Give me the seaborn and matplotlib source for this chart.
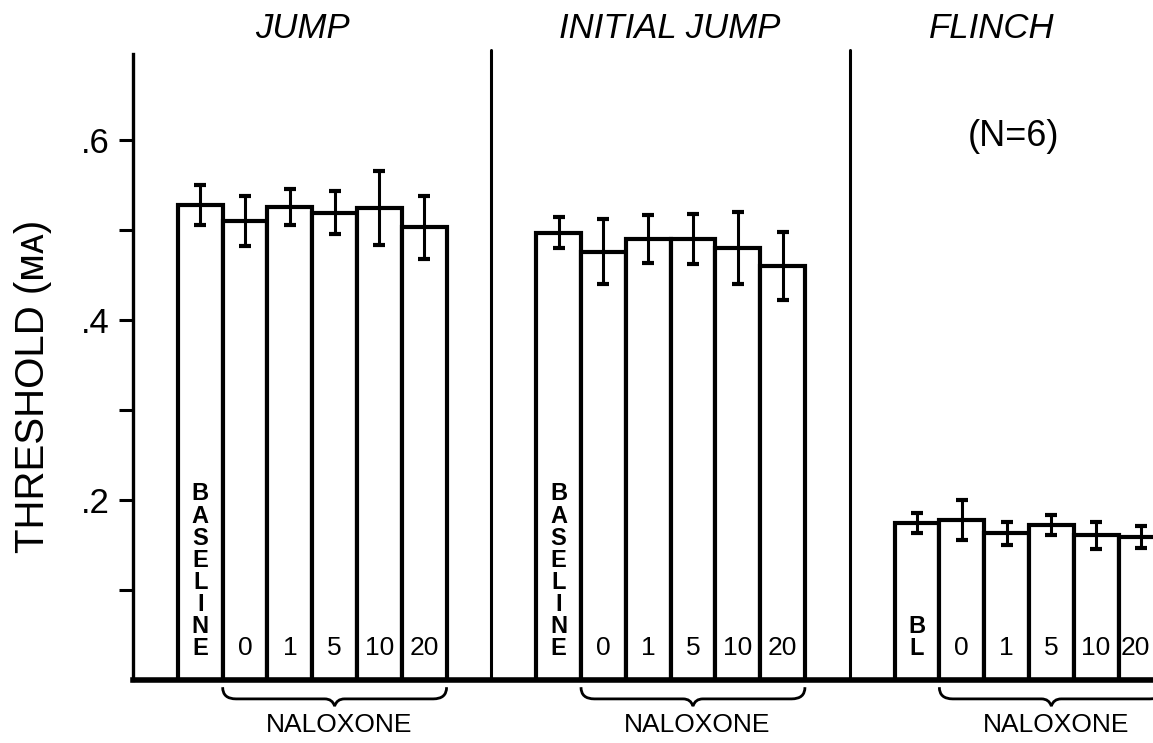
import numpy as np
import pandas as pd
import matplotlib
matplotlib.use("Agg")
import matplotlib.pyplot as plt
from matplotlib.path import Path
from matplotlib.patches import PathPatch
import seaborn as sns

# data (threshold in mA, mean +/- SEM)
panels = ["JUMP", "INITIAL JUMP", "FLINCH"]
conditions = ["BASELINE", "0", "1", "5", "10", "20"]
jump_mean = [0.528, 0.510, 0.525, 0.519, 0.524, 0.503]
jump_sem = [0.022, 0.028, 0.020, 0.024, 0.041, 0.035]
initial_mean = [0.497, 0.476, 0.490, 0.490, 0.480, 0.460]
initial_sem = [0.017, 0.036, 0.027, 0.028, 0.040, 0.038]
flinch_mean = [0.174, 0.178, 0.163, 0.172, 0.161, 0.159]
flinch_sem = [0.011, 0.022, 0.013, 0.011, 0.015, 0.012]
yticks_major = [0.2, 0.4, 0.6]
ytick_labels = [".2", ".4", ".6"]
yticks_minor = [0.1, 0.3, 0.5]

sns.set_style("ticks")
plt.rcParams["font.family"] = ["Liberation Sans", "DejaVu Sans"]
for k in ["text.color", "axes.labelcolor", "xtick.color", "ytick.color", "axes.edgecolor"]:
    plt.rcParams[k] = "black"

panel_w = 8
rows = []
for p, (m, s) in enumerate(zip([jump_mean, initial_mean, flinch_mean],
                               [jump_sem, initial_sem, flinch_sem])):
    for i in range(len(conditions)):
        rows.append({"panel": panels[p], "cond": conditions[i],
                     "pos": p * panel_w + 1.5 + i, "thr": m[i], "sem": s[i]})
df = pd.DataFrame(rows)

fig = plt.figure(figsize=(11.53, 7.43), dpi=100)
ax = fig.add_axes([0.1154, 0.0848, 0.8846, 0.8419])

sns.barplot(data=df, x="pos", y="thr", native_scale=True, width=1.0,
            color="white", saturation=1, edgecolor="black", linewidth=3,
            errorbar=None, ax=ax)
ax.errorbar(df["pos"], df["thr"], yerr=df["sem"], fmt="none", ecolor="black",
            elinewidth=2.2, capsize=4, capthick=3)

ax.set_xlim(0, 22.77)
ax.set_ylim(0, 0.695)
ax.set_xticks([])
ax.set_xlabel("")
ax.set_yticks(yticks_major)
ax.set_yticklabels(ytick_labels, fontsize=25)
ax.set_yticks(yticks_minor, minor=True)
ax.tick_params(axis="y", which="both", length=10, width=2.2, direction="out", pad=7)
for side in ["top", "right"]:
    ax.spines[side].set_visible(False)
ax.spines["left"].set_linewidth(2.4)
ax.spines["bottom"].set_linewidth(4)
ax.set_ylabel("THRESHOLD (ᴍᴀ)", fontsize=29)
ax.yaxis.set_label_coords(-0.079, 0.47)

# panel dividers and titles
for p in [1, 2]:
    ax.plot([p * panel_w, p * panel_w], [0, 0.70], color="black", lw=2.2, clip_on=False)
for name, x in zip(panels, [3.78, 11.97, 19.16]):
    ax.text(x, 0.724, name, ha="center", va="center", fontsize=25,
            style="italic", clip_on=False)
ax.text(19.65, 0.604, "(N=6)", ha="center", va="center", fontsize=26)

# labels inside bars
for p in range(3):
    x0 = p * panel_w + 1.5
    base = "BASELINE" if p < 2 else "BL"
    ax.text(x0, 0.022, "\n".join(base), ha="center", va="bottom", fontsize=17,
            fontweight="bold", linespacing=0.95)
    for i, c in enumerate(conditions[1:]):
        # last flinch bar is cut by the right edge, keep its label inside
        x = x0 + 1 + i - (0.12 if (p == 2 and i == 4) else 0)
        ax.text(x, 0.022, c, ha="center", va="bottom", fontsize=19)

# braces under naloxone bars
def brace(ax, x0, x1, y0=-0.008, y1=-0.021, y2=-0.029, r=0.3, t=0.22):
    xm = (x0 + x1) / 2
    verts = [(x0, y0), (x0, y1), (x0 + r, y1),
             (xm - t, y1), (xm - 0.05, y1), (xm, y2),
             (xm + 0.05, y1), (xm + t, y1),
             (x1 - r, y1), (x1, y1), (x1, y0)]
    codes = [Path.MOVETO, Path.CURVE3, Path.CURVE3,
             Path.LINETO, Path.CURVE3, Path.CURVE3,
             Path.CURVE3, Path.CURVE3,
             Path.LINETO, Path.CURVE3, Path.CURVE3]
    ax.add_patch(PathPatch(Path(verts, codes), fill=False, lw=2,
                           color="black", clip_on=False))
    ax.text(xm + 0.1, -0.05, "NALOXONE", ha="center", va="center", fontsize=19)

for p in range(3):
    brace(ax, p * panel_w + 2, p * panel_w + 7)

fig.savefig("out.png", dpi=100)
